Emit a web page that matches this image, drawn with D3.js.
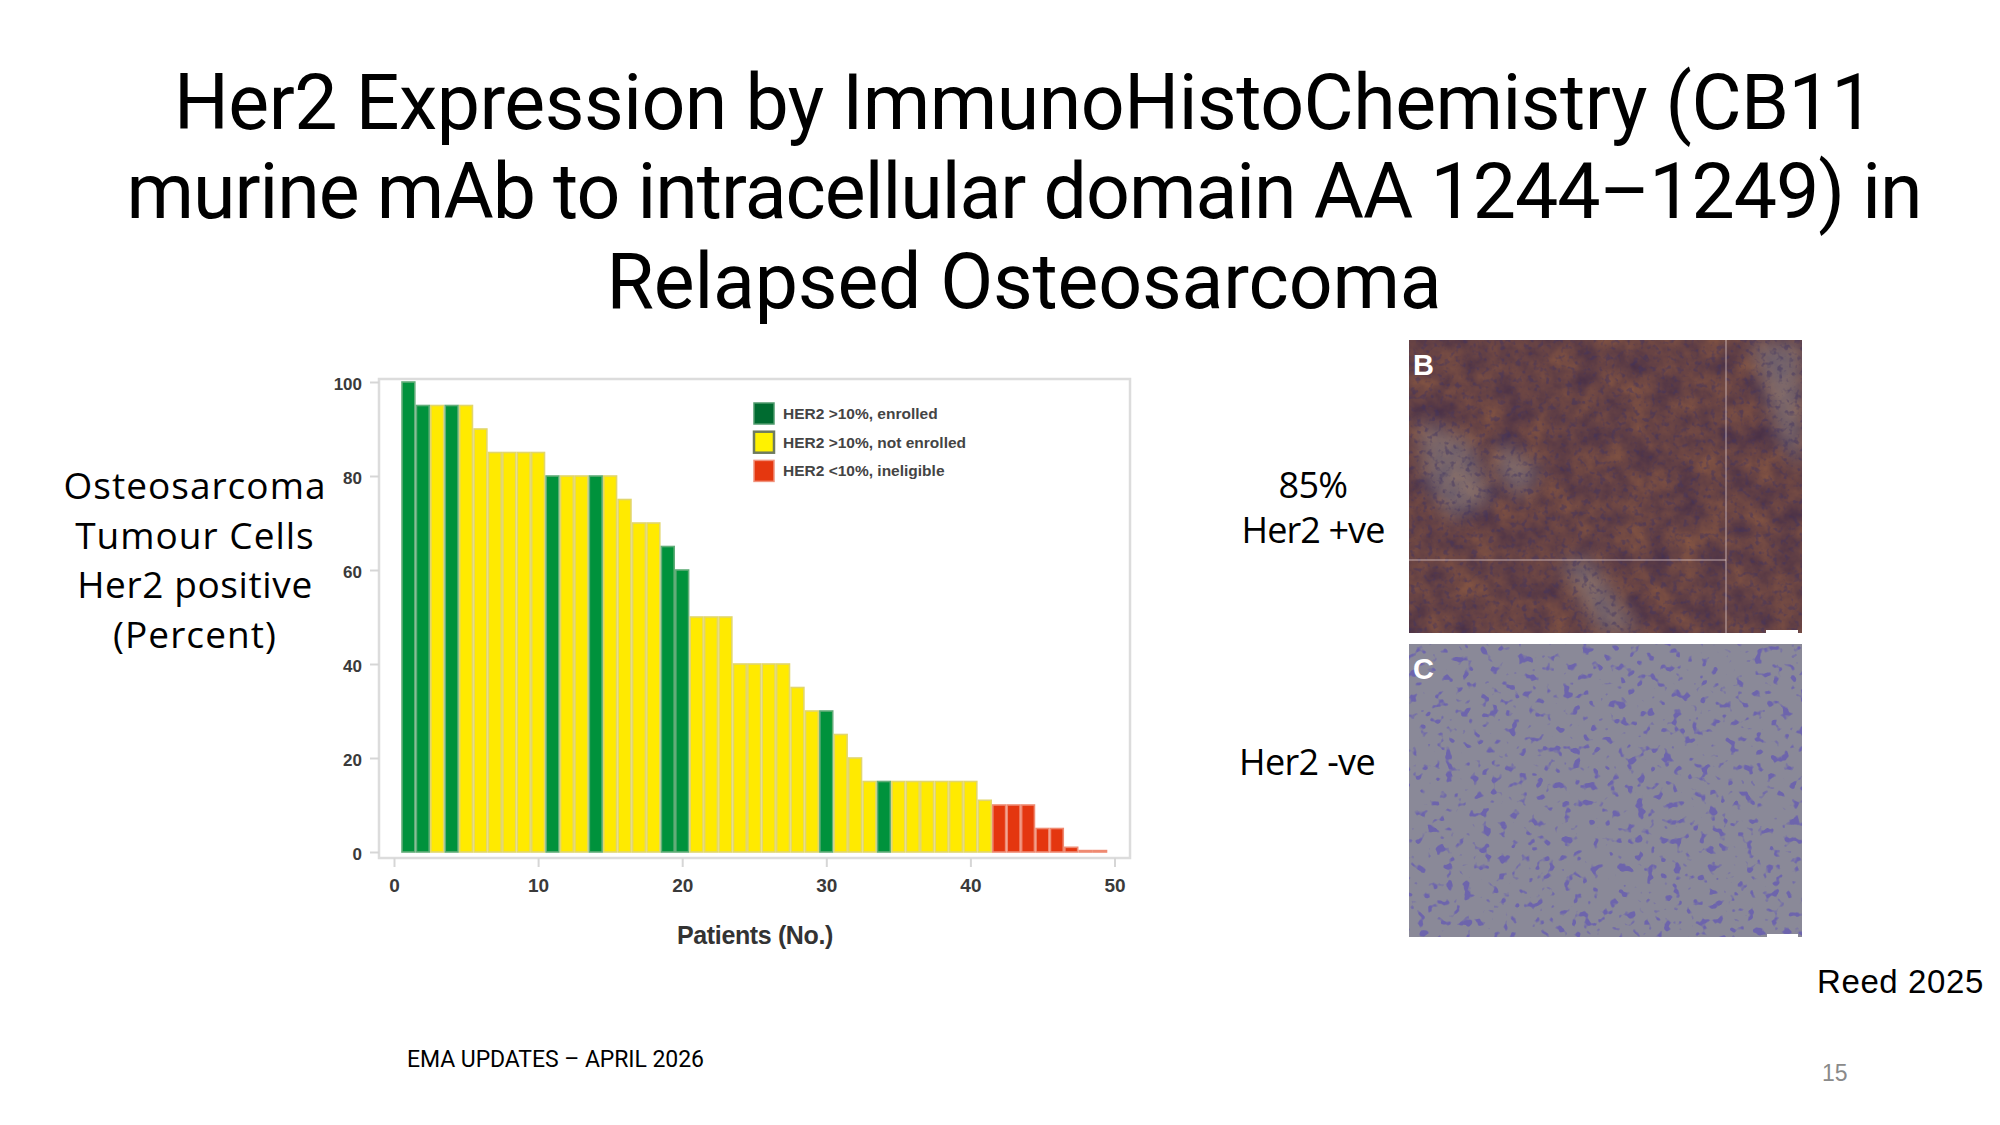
<!DOCTYPE html>
<html>
<head>
<meta charset="utf-8">
<script src="https://cdn.jsdelivr.net/npm/d3@7/dist/d3.min.js"></script>
<style>
  html, body { margin: 0; padding: 0; background: #ffffff; }
  svg { display: block; }
</style>
</head>
<body>
<svg id="slide" width="2000" height="1125"></svg>
<script>
// ---------------- DATA ----------------
const titleLines = [
  "Her2 Expression by ImmunoHistoChemistry (CB11",
  "murine mAb to intracellular domain AA 1244\u20131249) in",
  "Relapsed Osteosarcoma"
];
const yLabelLines = ["Osteosarcoma", "Tumour Cells", "Her2 positive", "(Percent)"];
const patients = [1,2,3,4,5,6,7,8,9,10,11,12,13,14,15,16,17,18,19,20,21,22,23,24,25,
                  26,27,28,29,30,31,32,33,34,35,36,37,38,39,40,41,42,43,44,45,46,47,48,49];
const her2Percent = [100,95,95,95,95,90,85,85,85,85,80,80,80,80,80,75,70,70,65,60,
                     50,50,50,40,40,40,40,35,30,30,25,20,15,15,15,15,15,15,15,15,
                     11,10,10,10,5,5,1,0.3,0.3];
// E = HER2 >10%, enrolled ; N = HER2 >10%, not enrolled ; I = HER2 <10%, ineligible
const status = ["E","E","N","E","N","N","N","N","N","N",
                "E","N","N","E","N","N","N","N","E","E",
                "N","N","N","N","N","N","N","N","N","E",
                "N","N","N","E","N","N","N","N","N","N",
                "N","I","I","I","I","I","I","I","I"];
const legendKeys = ["E","N","I"];
const legendLabels = ["HER2 >10%, enrolled", "HER2 >10%, not enrolled", "HER2 <10%, ineligible"];
const xTicks = [0,10,20,30,40,50];
const yTicks = [0,20,40,60,80,100];
const xAxisTitle = "Patients (No.)";
const panelLabels = ["B","C"];
const sideNotesB = ["85%", "Her2 +ve"];
const sideNoteC = "Her2 -ve";
const citation = "Reed 2025";
const footer = "EMA UPDATES \u2013 APRIL 2026";
const pageNumber = "15";

// ---------------- STYLE ----------------
const fill = {E: "#00923c", N: "#ffea00", I: "#e4360f"};
const edge = {E: "#62ad79", N: "#e2d66c", I: "#ef8a72"};
const legFill = {E: "#006b30", N: "#fff200", I: "#e5370f"};
const legEdge = {E: "#4f9b6c", N: "#6f7b5e", I: "#f0927c"};
const slideFont = "Roboto, 'Noto Sans', sans-serif";
const bodyFont = "'Open Sans', 'Noto Sans', sans-serif";
const chartFont = "'Liberation Sans', Arial, sans-serif";

const svg = d3.select("#slide");
svg.append("rect").attr("width", 2000).attr("height", 1125).attr("fill", "#ffffff");

function fit(sel, target) {
  sel.each(function () {
    const w = this.getComputedTextLength();
    const n = this.textContent.length;
    d3.select(this).attr("letter-spacing", ((target - w) / n).toFixed(2));
  });
}

// ---------------- TITLE ----------------
const titleWidths = [1700, 1795, 835];
const titleBase = [129, 218, 308];
titleLines.forEach((t, i) => {
  const el = svg.append("text")
    .attr("x", 1024).attr("y", titleBase[i])
    .attr("text-anchor", "middle")
    .attr("font-family", slideFont).attr("font-size", 77)
    .attr("fill", "#000").text(t);
  fit(el, titleWidths[i]);
});

// ---------------- CHART ----------------
const x = d3.scaleLinear().domain([0, 50]).range([394, 1114.5]);
const y = d3.scaleLinear().domain([0, 100]).range([852, 382]);
const frame = {x0: 379, x1: 1130, y0: 379, y1: 858};

svg.append("rect")
  .attr("x", frame.x0).attr("y", frame.y0)
  .attr("width", frame.x1 - frame.x0).attr("height", frame.y1 - frame.y0)
  .attr("fill", "#fff").attr("stroke", "#dcdcdc").attr("stroke-width", 2.5);

const bw = x(1) - x(0);
svg.append("g").selectAll("rect")
  .data(patients.map((p, i) => ({p, v: her2Percent[i], s: status[i]})))
  .join("rect")
  .attr("x", d => x(d.p - 0.5) + 0.8)
  .attr("width", bw - 1.6)
  .attr("y", d => y(d.v))
  .attr("height", d => y(0) - y(d.v))
  .attr("fill", d => fill[d.s])
  .attr("stroke", d => edge[d.s])
  .attr("stroke-width", 1.6);

// y axis
const yAxis = svg.append("g")
  .attr("transform", `translate(${frame.x0},0)`)
  .call(d3.axisLeft(y).tickValues(yTicks).tickSize(9).tickPadding(8));
yAxis.select(".domain").remove();
yAxis.selectAll(".tick line").attr("stroke", "#d6d6d6").attr("stroke-width", 2);
yAxis.selectAll(".tick text").attr("font-family", chartFont).attr("font-size", 17)
  .attr("fill", "#3a3a3a").attr("font-weight", "bold").attr("dy", "0.45em");

// x axis
const xAxis = svg.append("g")
  .attr("transform", `translate(0,${frame.y1})`)
  .call(d3.axisBottom(x).tickValues(xTicks).tickSize(9).tickPadding(12));
xAxis.select(".domain").remove();
xAxis.selectAll(".tick line").attr("stroke", "#d6d6d6").attr("stroke-width", 2);
xAxis.selectAll(".tick text").attr("font-family", chartFont).attr("font-size", 19)
  .attr("fill", "#3a3a3a").attr("font-weight", "bold");

svg.append("text")
  .attr("x", 755).attr("y", 944).attr("text-anchor", "middle")
  .attr("font-family", chartFont).attr("font-size", 25).attr("font-weight", "bold")
  .attr("fill", "#333").text(xAxisTitle)
  .call(fit, 156);

// legend
const leg = svg.append("g");
legendKeys.forEach((k, i) => {
  const cy = 413.5 + i * 28.7;
  leg.append("rect")
    .attr("x", 754).attr("y", cy - 10.5).attr("width", 20).attr("height", 21)
    .attr("fill", legFill[k]).attr("stroke", legEdge[k]).attr("stroke-width", k === "N" ? 2.5 : 1.5);
  leg.append("text")
    .attr("x", 783).attr("y", cy + 5.5)
    .attr("font-family", chartFont).attr("font-size", 15.5).attr("font-weight", "bold")
    .attr("fill", "#444").text(legendLabels[i]);
});

// axis side label
const yl = svg.append("g");
const ylWidths = [263, 239.5, 235.5, 164];
yLabelLines.forEach((t, i) => {
  yl.append("text")
    .attr("x", 195).attr("y", 499 + i * 49.7).attr("text-anchor", "middle")
    .attr("font-family", bodyFont).attr("font-size", 37).attr("fill", "#000")
    .text(t).call(fit, ylWidths[i]);
});

// ---------------- IHC PANELS (decorative photos) ----------------
const defs = svg.append("defs");
const fB = defs.append("filter").attr("id", "texB")
  .attr("x", 0).attr("y", 0).attr("width", 1).attr("height", 1)
  .attr("color-interpolation-filters", "sRGB");
fB.append("feTurbulence").attr("type", "fractalNoise").attr("baseFrequency", 0.04)
  .attr("numOctaves", 4).attr("seed", 7);
fB.append("feColorMatrix").attr("type", "matrix")
  .attr("values", "0.45 0 0 0 0.2  0.27 0 0 0 0.13  -0.05 0 0 0 0.3  0 0 0 0 1");

const fB2 = defs.append("filter").attr("id", "texB2")
  .attr("x", 0).attr("y", 0).attr("width", 1).attr("height", 1)
  .attr("color-interpolation-filters", "sRGB");
fB2.append("feTurbulence").attr("type", "fractalNoise").attr("baseFrequency", 0.18)
  .attr("numOctaves", 2).attr("seed", 3);
fB2.append("feColorMatrix").attr("type", "matrix")
  .attr("values", "0 0 0 0 0.25  0 0 0 0 0.2  0 0 0 0 0.38  5 0 0 0 -2.7");

const fC = defs.append("filter").attr("id", "texC")
  .attr("x", 0).attr("y", 0).attr("width", 1).attr("height", 1)
  .attr("color-interpolation-filters", "sRGB");
fC.append("feTurbulence").attr("type", "fractalNoise").attr("baseFrequency", 0.11)
  .attr("numOctaves", 2).attr("seed", 11);
fC.append("feColorMatrix").attr("type", "matrix")
  .attr("values", "0 0 0 0 0.40  0 0 0 0 0.36  0 0 0 0 0.70  10 0 0 0 -6.0");

const blur = defs.append("filter").attr("id", "soft")
  .attr("x", "-50%").attr("y", "-50%").attr("width", "200%").attr("height", "200%");
blur.append("feGaussianBlur").attr("stdDeviation", 9);

const pB = {x: 1409, y: 340, w: 393, h: 293};
const pC = {x: 1409, y: 644, w: 393, h: 293};

const clipB = defs.append("clipPath").attr("id", "clipB");
clipB.append("rect").attr("x", pB.x).attr("y", pB.y).attr("width", pB.w).attr("height", pB.h);

const gB = svg.append("g").attr("clip-path", "url(#clipB)");
gB.append("rect").attr("x", pB.x).attr("y", pB.y).attr("width", pB.w).attr("height", pB.h).attr("fill", "#5e4242");
gB.append("rect").attr("x", pB.x).attr("y", pB.y).attr("width", pB.w).attr("height", pB.h)
  .attr("filter", "url(#texB)").attr("opacity", 0.65);
// stroma streaks
const streaks = [
  "M1418,420 L1470,440 L1492,500 L1450,520 L1425,480 Z",
  "M1560,560 L1590,560 L1640,632 L1600,633 Z",
  "M1750,342 L1802,342 L1802,470 L1780,440 Z",
  "M1500,440 L1540,470 L1520,500 L1495,470 Z"
];
gB.selectAll("path.streak").data(streaks).join("path").attr("class", "streak")
  .attr("d", d => d).attr("fill", "#8c909a").attr("opacity", 0.45).attr("filter", "url(#soft)");
gB.append("rect").attr("x", pB.x).attr("y", pB.y).attr("width", pB.w).attr("height", pB.h)
  .attr("filter", "url(#texB2)").attr("opacity", 0.45);
gB.append("line").attr("x1", 1726).attr("x2", 1726).attr("y1", pB.y).attr("y2", pB.y + pB.h)
  .attr("stroke", "#e6d0d0").attr("stroke-opacity", 0.5).attr("stroke-width", 1.5);
gB.append("line").attr("x1", pB.x).attr("x2", 1726).attr("y1", 560).attr("y2", 560)
  .attr("stroke", "#e6d0d0").attr("stroke-opacity", 0.5).attr("stroke-width", 1.5);
gB.append("rect").attr("x", 1766).attr("y", 630).attr("width", 32).attr("height", 3).attr("fill", "#fff");

svg.append("rect").attr("x", pC.x).attr("y", pC.y).attr("width", pC.w).attr("height", pC.h).attr("fill", "#8a8998");
svg.append("rect").attr("x", pC.x).attr("y", pC.y).attr("width", pC.w).attr("height", pC.h)
  .attr("filter", "url(#texC)").attr("opacity", 0.8);
svg.append("rect").attr("x", 1767).attr("y", 934).attr("width", 31).attr("height", 3).attr("fill", "#fff");

[pB, pC].forEach((p, i) => {
  svg.append("text").attr("x", p.x + 4).attr("y", p.y + 35)
    .attr("font-family", chartFont).attr("font-weight", "bold").attr("font-size", 29)
    .attr("fill", "#ffffff").text(panelLabels[i]);
});

// side notes
svg.append("text").attr("x", 1313).attr("y", 498).attr("text-anchor", "middle")
  .attr("font-family", bodyFont).attr("font-size", 36).attr("fill", "#000")
  .text(sideNotesB[0]).call(fit, 69);
svg.append("text").attr("x", 1313).attr("y", 543).attr("text-anchor", "middle")
  .attr("font-family", bodyFont).attr("font-size", 36).attr("fill", "#000")
  .text(sideNotesB[1]).call(fit, 143);
svg.append("text").attr("x", 1307).attr("y", 775).attr("text-anchor", "middle")
  .attr("font-family", bodyFont).attr("font-size", 36).attr("fill", "#000")
  .text(sideNoteC).call(fit, 136);

svg.append("text").attr("x", 1817).attr("y", 993)
  .attr("font-family", chartFont).attr("font-size", 33).attr("fill", "#000")
  .text(citation).call(fit, 167);

svg.append("text").attr("x", 407).attr("y", 1067)
  .attr("font-family", slideFont).attr("font-size", 23).attr("fill", "#000")
  .text(footer).call(fit, 297);

svg.append("text").attr("x", 1822).attr("y", 1081)
  .attr("font-family", chartFont).attr("font-size", 23).attr("fill", "#8a8a8a")
  .text(pageNumber);
</script>
</body>
</html>
